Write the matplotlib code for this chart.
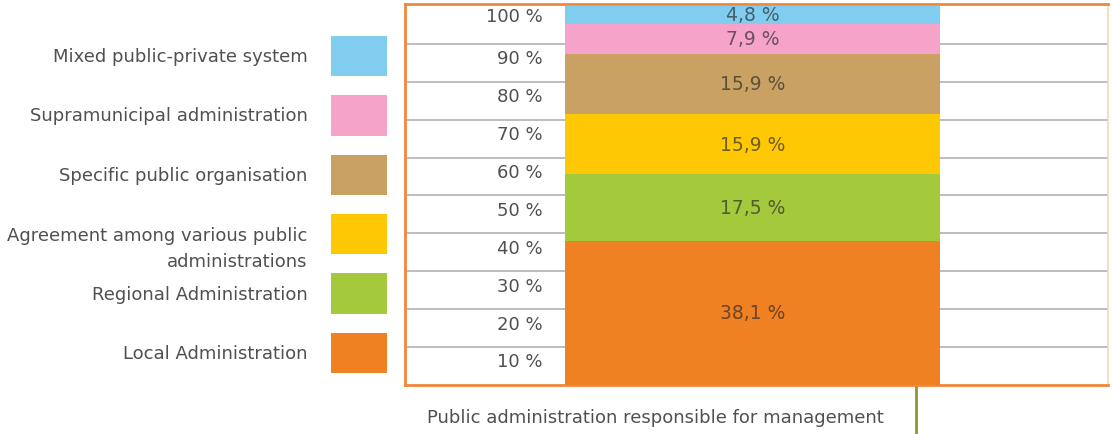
import matplotlib
matplotlib.use("Agg")
import matplotlib.pyplot as plt
import numpy as np

# data, bottom of the stack first
categories = ["Local Administration", "Regional Administration",
              "Agreement among various public\nadministrations",
              "Specific public organisation", "Supramunicipal administration",
              "Mixed public-private system"]
values = [38.1, 17.5, 15.9, 15.9, 7.9, 4.8]
value_labels = ["38,1 %", "17,5 %", "15,9 %", "15,9 %", "7,9 %", "4,8 %"]
colors = ["#f08122", "#a5c93c", "#ffc805", "#c9a263", "#f5a3c8", "#80cdf0"]
tick_values = [10, 20, 30, 40, 50, 60, 70, 80, 90, 100]
tick_labels = ["10 %", "20 %", "30 %", "40 %", "50 %", "60 %", "70 %", "80 %", "90 %", "100 %"]
xlabel = "Public administration responsible for management"

_TEXT = "#505050"
_FRAME = "#f0883c"
_GRID = "#bdbdbd"

plt.rcParams["font.family"] = ["DejaVu Sans"]

fig = plt.figure(figsize=(11.12, 4.35), dpi=100)
fig.patch.set_facecolor("white")

# main chart frame
ax = fig.add_axes([405 / 1112, 49 / 435, 703 / 1112, 381 / 435])
ax.set_xlim(0, 1)
ax.set_ylim(0, 100.5)

bottoms = np.concatenate([[0], np.cumsum(values)[:-1]])
ax.bar(0.4945, values, bottom=bottoms, width=0.533, color=colors,
       edgecolor="none", zorder=3)
# labels are a translucent dark ink so they pick up the tint of each band
for v, b, lab in zip(values, bottoms, value_labels):
    ax.text(0.4945, b + v / 2, lab, ha="center", va="center",
            color="#262626", alpha=0.66, fontsize=13.5, zorder=4)

for t in tick_values[:-1]:
    ax.axhline(t, color=_GRID, linewidth=1.4, zorder=1)
# tick labels sit just under their gridline; the top one is squeezed up to the frame
for t, lab in zip(tick_values, tick_labels):
    ax.text(0.196, t - 3.8 if t < 100 else 97.3, lab,
            transform=ax.get_yaxis_transform(),
            ha="right", va="center", color=_TEXT, fontsize=13)

ax.set_xticks([])
ax.set_yticks([])
for name, s in ax.spines.items():
    s.set_color(_FRAME)
    s.set_linewidth(2)
ax.spines["right"].set_color("#f8d3b8")
ax.spines["right"].set_linewidth(1.2)

ax.set_xlabel(xlabel, color=_TEXT, fontsize=13)
ax.xaxis.set_label_coords(0.356, -0.06)
ax.plot([0.727, 0.727], [-0.005, -0.13], transform=ax.transAxes,
        color="#8a9a2a", linewidth=2, clip_on=False)

# legend on the left, drawn as its own small axes
lg = fig.add_axes([0, 0, 405 / 1112, 1])
lg.set_xlim(0, 1)
lg.set_ylim(-1.364, 5.96)
lg.axis("off")
pos = np.arange(len(categories))
lg.barh(pos, 0.139, left=0.817, height=0.68, color=colors, edgecolor="none")
for p, cat in zip(pos, categories):
    if "\n" in cat:
        lg.text(0.76, p + 0.13, cat, ha="right", va="top", color=_TEXT,
                fontsize=13, linespacing=1.55)
    else:
        lg.text(0.76, p, cat, ha="right", va="center", color=_TEXT, fontsize=13)

fig.savefig("out.png", dpi=100, facecolor="white")
